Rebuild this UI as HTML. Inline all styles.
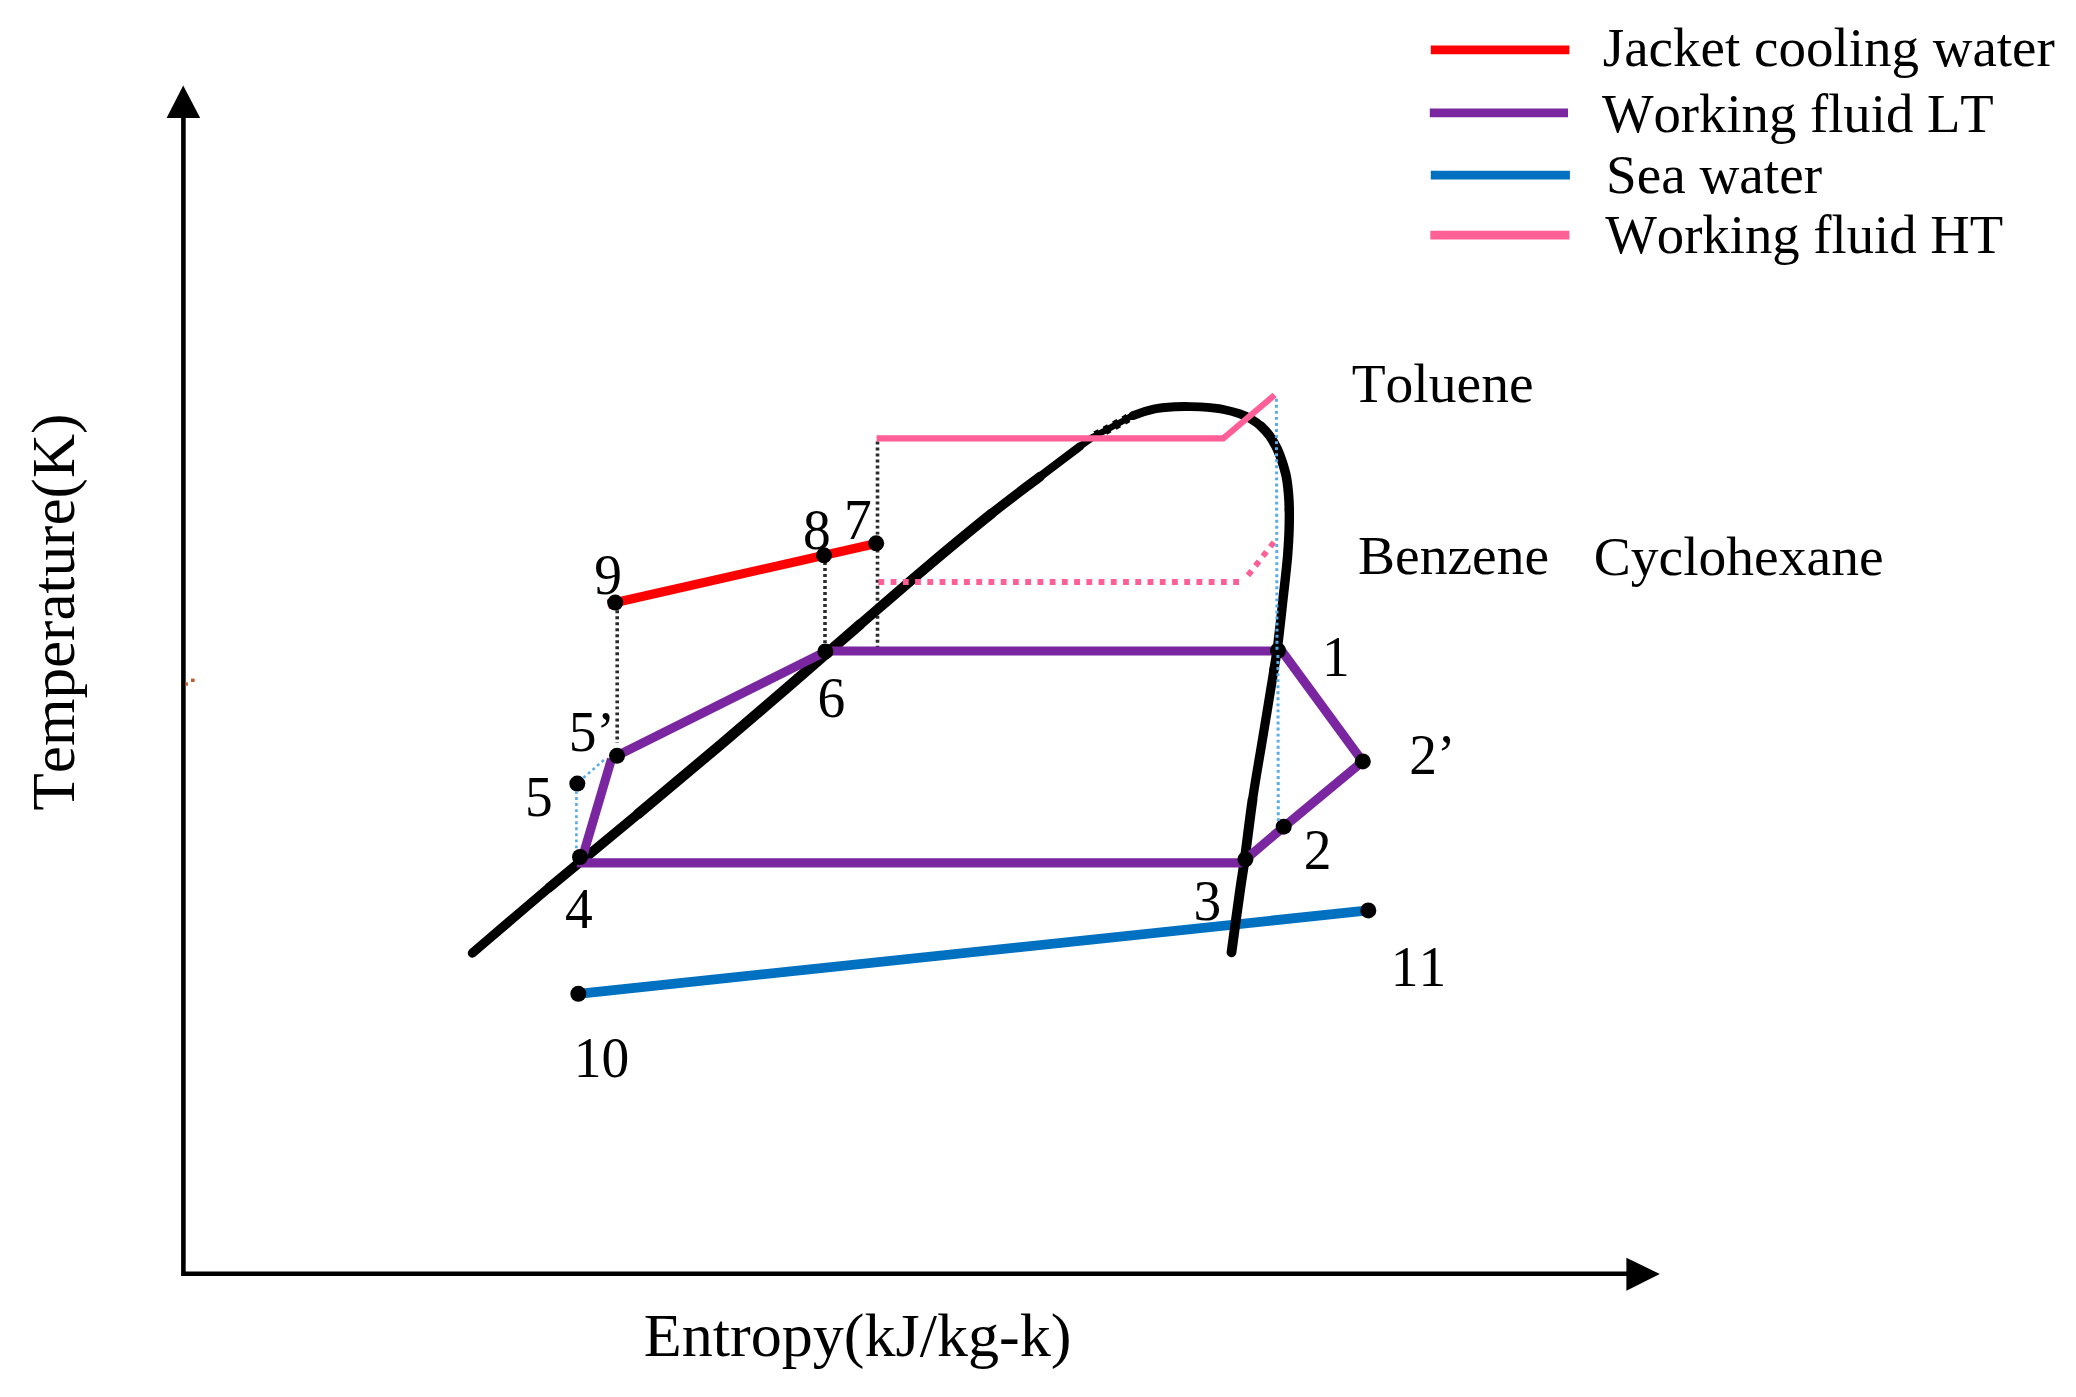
<!DOCTYPE html>
<html lang="en"><head><meta charset="utf-8"><title>T-s diagram</title>
<style>
html,body{margin:0;padding:0;background:#fff;}
body{width:2076px;height:1397px;overflow:hidden;}
svg{display:block;}
text{font-family:"Liberation Serif","Times New Roman",Times,serif;fill:#000;font-kerning:none;font-variant-ligatures:none;}
</style></head><body>
<svg width="2076" height="1397" viewBox="0 0 2076 1397">
<rect x="0" y="0" width="2076" height="1397" fill="#fff"/>
<g stroke="#000" stroke-width="4.6" fill="none" stroke-linejoin="miter">
<path d="M183.4 116 L183.4 1273.8 L1628 1273.8"/>
</g>
<path d="M183.2 85.5 L166.6 118 L200.2 118 Z" fill="#000"/>
<path d="M1659.8 1274 L1626.4 1257.8 L1626.4 1290.8 Z" fill="#000"/>
<g stroke-width="8.7" fill="none">
<line x1="1430.8" y1="49.95" x2="1569.4" y2="49.95" stroke="#ff0000"/>
<line x1="1429.8" y1="112.95" x2="1568" y2="112.95" stroke="#7a26a1"/>
<line x1="1430.8" y1="175.05" x2="1569.9" y2="175.05" stroke="#0070c0"/>
<line x1="1430.3" y1="235.05" x2="1569.4" y2="235.05" stroke="#ff6096"/>
</g>
<line x1="578.3" y1="993.8" x2="1368.3" y2="910.4" stroke="#0070c0" stroke-width="9.8"/>
<g stroke="#2b2b2b" stroke-width="3.6" fill="none" stroke-dasharray="2.9 3.11">
<line x1="617.2" y1="610.3" x2="617.2" y2="743"/>
<line x1="825.0" y1="562" x2="825.0" y2="646"/>
<line x1="877.5" y1="441.5" x2="877.5" y2="650"/>
</g>
<g stroke="#000" fill="none" stroke-linejoin="round">
<path d="M472.4 953.1 C485.2 942.2 521.6 910.8 549.3 887.5" stroke-width="9.2" stroke-linecap="round"/>
<path d="M549.3 887.5 C577.0 864.2 610.1 837.2 638.6 813.5" stroke-width="9.8" stroke-linecap="round"/>
<path d="M638.6 813.5 C667.1 789.8 694.8 766.6 720.0 745.2 C745.2 723.8 766.7 705.3 790.0 685.2 C813.3 665.1 836.7 644.6 860.0 624.5" stroke-width="10.4" stroke-linecap="round"/>
<path d="M860.0 624.5 C883.3 604.4 908.0 582.8 930.0 564.3 C952.0 545.8 973.4 528.1 991.7 513.5" stroke-width="10.0" stroke-linecap="round"/>
<path d="M991.7 513.5 C1010.0 498.9 1025.3 487.8 1040.0 476.6" stroke-width="9.6" stroke-linecap="round"/>
<path d="M1040.0 476.6 C1054.7 465.4 1071.2 453.0 1080.0 446.4" stroke-width="8.3" stroke-linecap="round"/>
<path d="M1080.0 446.4 C1088.8 439.8 1088.7 439.9 1093.0 437.2" stroke-width="6.9" stroke-linecap="round"/>
<path d="M1093.0 437.2 C1097.3 434.5 1100.8 432.9 1105.8 430.2 C1110.8 427.5 1118.4 423.4 1122.9 421.0 C1127.4 418.6 1127.9 417.6 1133.0 415.6" stroke-width="6.4"/>
<path d="M1093.0 437.2 C1097.3 434.5 1100.8 432.9 1105.8 430.2 C1110.8 427.5 1118.4 423.4 1122.9 421.0 C1127.4 418.6 1127.9 417.6 1133.0 415.6" stroke-width="9.2" stroke-dasharray="5.2 5.4" stroke-dashoffset="-3" stroke-linecap="butt"/>
<path d="M1133.0 415.6 C1138.1 413.6 1146.7 410.7 1153.7 409.2 C1160.7 407.7 1168.8 407.2 1175.1 406.8 C1181.4 406.4 1185.9 406.5 1191.3 406.6 C1196.7 406.7 1202.0 406.9 1207.4 407.4 C1212.8 407.9 1218.1 408.4 1223.5 409.5 C1228.9 410.6 1235.1 412.3 1239.6 413.8 C1244.1 415.3 1246.7 416.5 1250.3 418.6 C1253.9 420.7 1257.8 423.3 1261.0 426.2" stroke-width="8.9" stroke-linecap="round"/>
<path d="M1261.0 426.2 C1264.2 429.1 1266.9 432.1 1269.6 435.8 C1272.3 439.6 1274.9 444.2 1277.1 448.7 C1279.2 453.2 1281.0 458.0 1282.5 462.7 C1284.0 467.4 1285.3 471.6 1286.3 476.6 C1287.3 481.6 1287.9 487.1 1288.4 492.7 C1288.9 498.3 1289.2 503.3 1289.3 510.0" stroke-width="9.5" stroke-linecap="round"/>
<path d="M1289.3 510.0 C1289.4 516.7 1289.3 525.3 1289.0 532.9 C1288.7 540.5 1288.2 548.2 1287.6 555.8 C1287.0 563.4 1286.1 571.1 1285.3 578.7 C1284.5 586.3 1283.5 594.0 1282.7 601.6 C1281.9 609.2 1281.1 616.9 1280.2 624.5 C1279.3 632.1 1278.5 639.8 1277.5 647.4 C1276.5 655.0 1276.6 653.7 1273.9 670.0" stroke-width="9.4" stroke-linecap="round"/>
<path d="M1273.9 670.0 C1271.2 686.3 1265.1 723.6 1261.5 745.3 C1257.9 767.0 1255.3 780.9 1252.5 800.0" stroke-width="9.2" stroke-linecap="round"/>
<path d="M1252.5 800.0 C1249.7 819.1 1246.7 845.0 1244.6 860.0 C1242.5 875.0 1242.3 874.6 1240.1 890.0 C1237.9 905.4 1232.9 941.9 1231.5 952.3" stroke-width="9.8" stroke-linecap="round"/>
</g>
<g stroke="#7a26a1" stroke-width="9.1" fill="none" stroke-linejoin="miter">
<path d="M1242.5 862.9 L577 862.9"/>
<path d="M581.8 859.5 L611.5 759.0"/>
<path d="M617.0 755.8 L825.3 651.8"/>
<path d="M825.3 651.0 L1278 651.0"/>
<path d="M1281.8 651 L1362.7 761.5 L1283.7 826.9 L1245.4 859.5"/>
</g>
<line x1="608" y1="604.35" x2="876.2" y2="543.4" stroke="#ff0000" stroke-width="9.2"/>
<path d="M876.6 438.4 L1223.3 438.4 L1274.6 395.0" stroke="#ff5e96" stroke-width="6.2" fill="none" stroke-linejoin="miter"/>
<path d="M878.4 582 L1243.4 582" stroke="#ff5e96" stroke-width="5.8" fill="none" stroke-dasharray="5.8 6.434"/>
<path d="M1248.0 575.4 L1276.2 539.2" stroke="#ff5e96" stroke-width="5.8" fill="none" stroke-dasharray="5.8 6.3"/>
<g fill="#000">
<circle cx="1278.0" cy="650.5" r="8.0"/>
<circle cx="1283.7" cy="826.7" r="8.0"/>
<circle cx="1362.8" cy="761.4" r="8.0"/>
<circle cx="1245.4" cy="859.3" r="8.0"/>
<circle cx="580.0" cy="857.0" r="8.0"/>
<circle cx="577.3" cy="783.6" r="8.0"/>
<circle cx="617.0" cy="755.8" r="8.0"/>
<circle cx="825.4" cy="651.4" r="8.0"/>
<circle cx="876.2" cy="543.3" r="8.0"/>
<circle cx="824.0" cy="555.3" r="8.0"/>
<circle cx="615.2" cy="602.6" r="8.0"/>
<circle cx="578.3" cy="993.8" r="8.0"/>
<circle cx="1368.3" cy="910.4" r="8.0"/>
</g>
<g stroke="#58ace9" stroke-width="3.0" fill="none" stroke-dasharray="2.9 3.15">
<line x1="1276.4" y1="398.8" x2="1277.0" y2="652"/>
<line x1="1277.9" y1="655" x2="1278.3" y2="821"/>
<line x1="576.4" y1="791" x2="576.4" y2="849" stroke-width="2.6"/>
<line x1="583.4" y1="777.8" x2="604.2" y2="759.7" stroke-width="2.6"/>
</g>
<rect x="185.5" y="682.3" width="2.4" height="3.4" fill="#c25a2c"/><rect x="191.0" y="678.6" width="3.6" height="3.4" fill="#c25a2c"/>
<text transform="translate(594.3 594.0) scale(1 1.035)" font-size="55.5">9</text>
<text transform="translate(803.0 549.0) scale(1 1.035)" font-size="55.5">8</text>
<text transform="translate(843.9 539.0) scale(1 1.035)" font-size="55.5">7</text>
<text transform="translate(817.5 716.6) scale(1 1.035)" font-size="55.5">6</text>
<text transform="translate(568.8 750.5) scale(1 1.035)" font-size="55.5">5’</text>
<text transform="translate(524.9 815.9) scale(1 1.035)" font-size="55.5">5</text>
<text transform="translate(564.9 927.9) scale(1 1.035)" font-size="55.5">4</text>
<text transform="translate(573.8 1076.9) scale(1 1.035)" font-size="55.5">10</text>
<text transform="translate(1322.0 675.6) scale(1 1.035)" font-size="55.5">1</text>
<text transform="translate(1409.2 774.0) scale(1 1.035)" font-size="55.5">2’</text>
<text transform="translate(1303.8 869.2) scale(1 1.035)" font-size="55.5">2</text>
<text transform="translate(1193.4 919.6) scale(1 1.035)" font-size="55.5">3</text>
<text transform="translate(1390.7 986.2) scale(1 1.035)" font-size="55.5">11</text>
<text x="1351.7" y="401.5" font-size="55.5">Toluene</text>
<text x="1358.0" y="574.1" font-size="55.5">Benzene</text>
<text x="1593.8" y="574.6" font-size="55.5">Cyclohexane</text>
<text x="1602.8" y="65.5" font-size="55.0">Jacket cooling water</text>
<text x="1601.9" y="131.7" font-size="54.7">Working fluid LT</text>
<text x="1606.0" y="193.4" font-size="55.2">Sea water</text>
<text x="1605.2" y="253.1" font-size="54.7">Working fluid HT</text>
<text x="643.8" y="1356.3" font-size="62.1">Entropy(kJ/kg-k)</text>
<text transform="translate(74.2 810.5) rotate(-90)" font-size="61.1">Temperature(K)</text>
</svg>
</body></html>
